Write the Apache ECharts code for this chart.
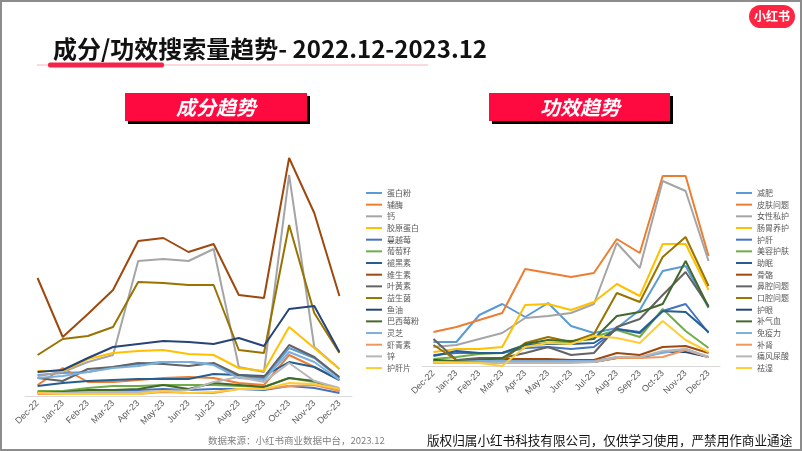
<!DOCTYPE html>
<html><head><meta charset="utf-8">
<script src="https://cdn.jsdelivr.net/npm/echarts@6/dist/echarts.min.js"></script>
<style>html,body{margin:0;padding:0;background:#fff;}#c{width:802px;height:451px;}</style>
</head><body><div id="c"></div>
<script>
const months = ['Dec-22','Jan-23','Feb-23','Mar-23','Apr-23','May-23','Jun-23','Jul-23','Aug-23','Sep-23','Oct-23','Nov-23','Dec-23'];

// 成分趋势 (relative search volume)
const ingNames = ['蛋白粉','辅酶','钙','胶原蛋白','蔓越莓','葡萄籽','褪黑素','维生素','叶黄素','益生菌','鱼油','巴西莓粉','灵芝','虾青素','锌','护肝片'];
const ing_蛋白粉 = [21,23,24,29,32,34,34,32,19,18,48,38,18];
const ing_辅酶 = [11,28,14,14,16,18,19,18,13,11,41,29,16];
const ing_钙 = [20,24,34,41,135,137,135,147,29,24,221,49,27];
const ing_胶原蛋白 = [25,25,37,43,45,46,42,41,28,25,69,48,27];
const ing_蔓越莓 = [4,5,5,6,6,7,6,7,7,6,10,8,3];
const ing_葡萄籽 = [5,5,8,10,10,11,11,11,10,9,18,14,7];
const ing_褪黑素 = [10,13,15,16,17,17,17,22,21,20,34,29,16];
const ing_维生素 = [118,59,82,106,155,158,144,152,101,98,238,183,100];
const ing_叶黄素 = [18,15,27,29,33,32,30,33,21,19,51,39,19];
const ing_益生菌 = [41,57,60,69,114,113,111,111,46,43,171,83,43];
const ing_鱼油 = [24,26,38,49,52,55,54,52,58,50,87,90,44];
const ing_巴西莓粉 = [3,4,6,6,7,11,7,13,11,9,18,15,5];
const ing_灵芝 = [18,20,24,28,30,34,34,31,18,16,44,34,16];
const ing_虾青素 = [2,2,2,2,2,4,3,3,7,7,10,11,5];
const ing_锌 = [3,3,4,4,4,5,6,14,19,14,33,15,8];
const ing_护肝片 = [3,2,2,2,2,5,3,4,7,7,13,12,7];
const ingData = [ing_蛋白粉,ing_辅酶,ing_钙,ing_胶原蛋白,ing_蔓越莓,ing_葡萄籽,ing_褪黑素,ing_维生素,ing_叶黄素,ing_益生菌,ing_鱼油,ing_巴西莓粉,ing_灵芝,ing_虾青素,ing_锌,ing_护肝片];

// 功效趋势 (relative search volume)
const effNames = ['减肥','皮肤问题','女性私护','肠胃养护','护肝','美容护肤','助眠','骨骼','鼻腔问题','口腔问题','护眼','补气血','免疫力','补肾','痛风尿酸','祛湿'];
const eff_减肥 = [24,24,51,62,49,63,40,33,38,56,95,100,58];
const eff_皮肤问题 = [34,39,46,53,97,93,89,93,127,113,190,190,110];
const eff_女性私护 = [19,21,27,33,48,50,53,62,123,98,185,175,105];
const eff_肠胃养护 = [14,17,17,19,61,62,56,64,82,70,122,122,76];
const eff_护肝 = [11,13,13,13,18,19,17,19,37,34,55,62,33];
const eff_美容护肤 = [7,9,12,13,21,23,24,29,36,29,57,35,18];
const eff_助眠 = [10,15,13,13,21,22,22,23,37,33,55,54,34];
const eff_骨骼 = [4,5,6,7,7,7,6,6,13,11,19,20,13];
const eff_鼻腔问题 = [27,6,8,8,13,19,11,13,39,47,71,94,60];
const eff_口腔问题 = [21,6,6,6,23,29,24,32,73,64,109,129,80];
const eff_护眼 = [6,5,5,5,4,4,4,4,8,8,14,14,9];
const eff_补气血 = [5,5,6,8,22,26,25,27,50,54,62,105,59];
const eff_免疫力 = [4,4,5,5,5,5,5,5,9,9,13,17,9];
const eff_补肾 = [3,3,3,4,4,4,4,4,8,8,9,16,9];
const eff_痛风尿酸 = [3,3,3,3,3,3,3,4,9,9,15,17,9];
const eff_祛湿 = [4,3,3,0,19,23,22,30,28,23,45,26,14];
const effData = [eff_减肥,eff_皮肤问题,eff_女性私护,eff_肠胃养护,eff_护肝,eff_美容护肤,eff_助眠,eff_骨骼,eff_鼻腔问题,eff_口腔问题,eff_护眼,eff_补气血,eff_免疫力,eff_补肾,eff_痛风尿酸,eff_祛湿];

const palette = ['#5B9BD5','#ED7D31','#A5A5A5','#FFC000','#4472C4','#70AD47','#255E91','#9E480E','#636363','#997300','#264478','#43682B','#7CAFDD','#F1975A','#B7B7B7','#FFCD33'];

const FONT = '"Noto Sans CJK SC", "Noto Sans", sans-serif';
const chart = echarts.init(document.getElementById('c'), null, {renderer:'canvas'});

function mkSeries(names, data, idx){
  return names.map((n,i)=>({
    name:n, type:'line', xAxisIndex:idx, yAxisIndex:idx, data:data[i],
    symbol:'none', smooth:false, animation:false,
    lineStyle:{width:2, color:palette[i]}, itemStyle:{color:palette[i]}
  }));
}
const xAx = (gi)=>({type:'category', gridIndex:gi, data:months, boundaryGap:true,
  axisLine:{lineStyle:{color:'#d9d9d9', width:1}}, axisTick:{show:false},
  axisLabel:{rotate:45, interval:0, fontSize:9, color:'#595959', margin:6, fontFamily:'"Liberation Sans", Arial, sans-serif'}});
const legendCommon = {orient:'vertical', icon:'rect', itemWidth:16, itemHeight:2, itemGap:1.67,
  textStyle:{fontSize:8, lineHeight:10, color:'#595959', fontFamily:FONT}, selectedMode:false};

const option = {
  animation:false,
  grid:[{left:25, top:156, width:327, height:240},{left:422, top:166, width:298, height:200}],
  xAxis:[xAx(0), xAx(1)],
  yAxis:[{type:'value', gridIndex:0, min:0, max:240, show:false},{type:'value', gridIndex:1, min:0, max:200, show:false}],
  legend:[Object.assign({left:361, top:183, data:ingNames}, legendCommon), Object.assign({left:731, top:183, data:effNames}, legendCommon)],
  series:[...mkSeries(ingNames, ingData, 0), ...mkSeries(effNames, effData, 1)],
  graphic:[
    {type:'rect', shape:{x:1, y:1, width:800, height:449}, style:{fill:'none', stroke:'#8c8c8c', lineWidth:2}, silent:true},
    {type:'text', x:53, y:49, style:{text:'成分/功效搜索量趋势- 2022.12-2023.12', font:'bold 24px '+FONT, fill:'#111', verticalAlign:'middle'}},
    {type:'rect', shape:{x:37, y:64.5, width:391, height:1}, style:{fill:'#F8B4C0'}},
    {type:'rect', shape:{x:48, y:62.5, width:116, height:5, r:2}, style:{fill:'#F5234A'}},
    {type:'rect', shape:{x:749, y:5, width:46, height:23, r:11.5}, style:{fill:'#FF2442'}},
    {type:'text', x:772, y:16.5, style:{text:'小红书', font:'bold 12px '+FONT, fill:'#fff', align:'center', verticalAlign:'middle'}},
    {type:'rect', shape:{x:128, y:96, width:182, height:28}, style:{fill:'#000'}},
    {type:'rect', shape:{x:125, y:93, width:182, height:28}, style:{fill:'#FF0A40'}},
    {type:'text', x:216, y:107, style:{text:'成分趋势', font:'italic bold 20px '+FONT, fill:'#fff', align:'center', verticalAlign:'middle'}},
    {type:'rect', shape:{x:492, y:96, width:181, height:28}, style:{fill:'#000'}},
    {type:'rect', shape:{x:489, y:93, width:181, height:28}, style:{fill:'#FF0A40'}},
    {type:'text', x:580, y:107, style:{text:'功效趋势', font:'italic bold 20px '+FONT, fill:'#fff', align:'center', verticalAlign:'middle'}},
    {type:'text', x:208, y:440, style:{text:'数据来源：小红书商业数据中台，2023.12', font:'9.5px '+FONT, fill:'#808080', verticalAlign:'middle'}},
    {type:'text', x:427, y:440, style:{text:'版权归属小红书科技有限公司，仅供学习使用，严禁用作商业通途', font:'12.6px '+FONT, fill:'#111', verticalAlign:'middle'}}
  ]
};
chart.setOption(option);
</script></body></html>
